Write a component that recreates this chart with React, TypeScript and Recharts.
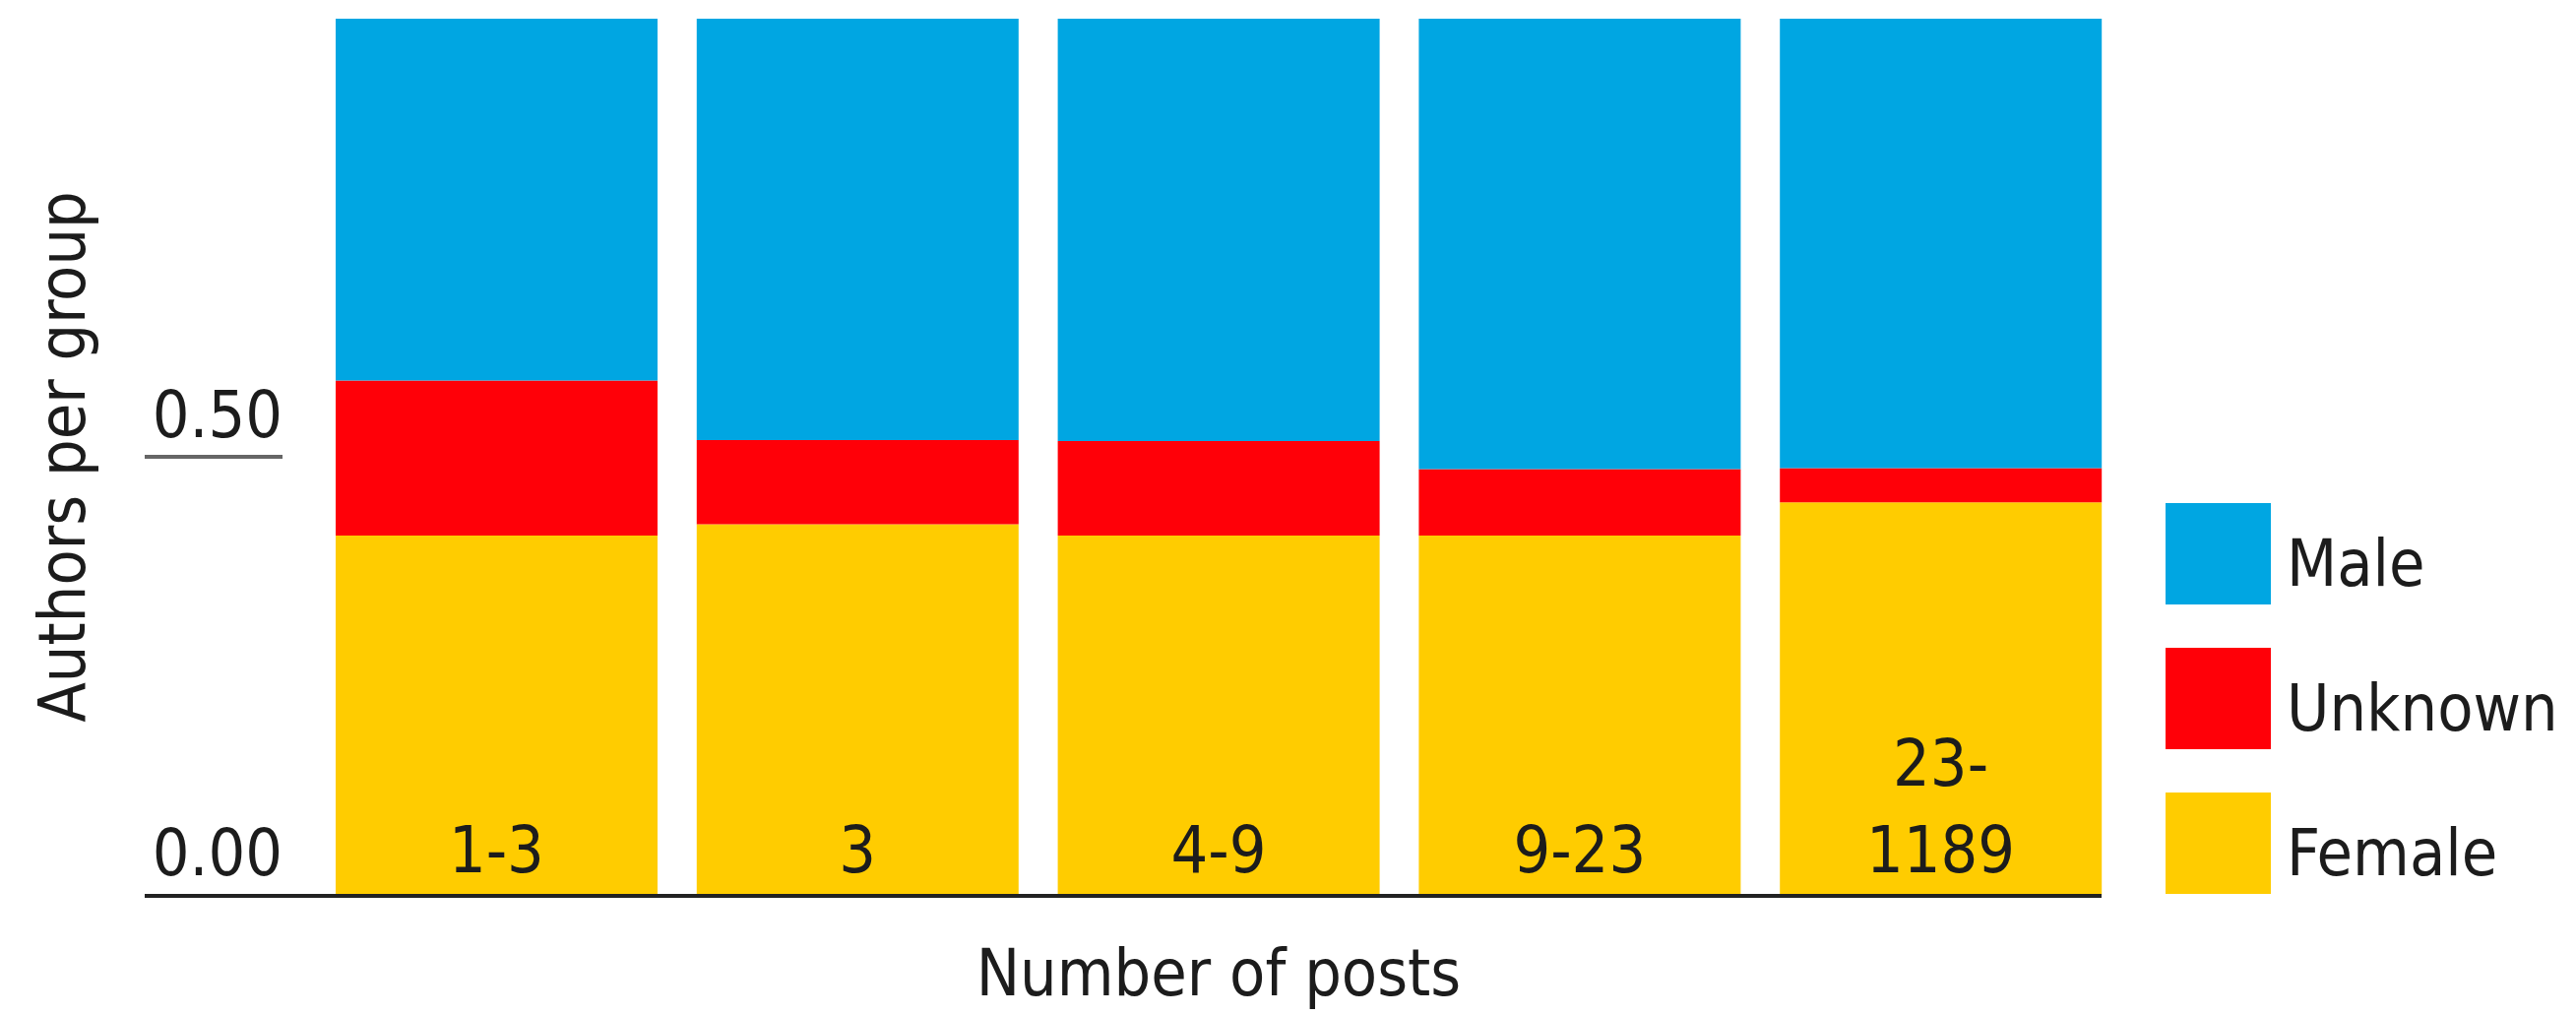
import { BarChart, Bar, XAxis, YAxis, Legend } from 'recharts';

const categories = ['1-3', '3', '4-9', '9-23', '23-\n1189'];
const female = [0.41, 0.423, 0.41, 0.41, 0.448];
const unknown = [0.177, 0.096, 0.108, 0.076, 0.039];
const male = [0.413, 0.481, 0.482, 0.514, 0.513];
const yTicks = [0, 0.5];
const legendOrder = ['Male', 'Unknown', 'Female'];

const data = categories.map((c, i) => ({
  posts: c,
  female: female[i],
  unknown: unknown[i],
  male: male[i],
}));

const FONT = "'DejaVu Sans Condensed', 'DejaVu Sans', sans-serif";
const INK = '#1c1c1c';
const CHART_W = 2617;
const CHART_H = 1031;
const MARGIN = { top: 19, right: 462, left: 0, bottom: 0 };
const Y_AXIS_W = 321;
const BAR_W = 327;
// plot width, minus the half gap so the base line stops at the last bar
const BASE_END = CHART_W - MARGIN.right - Y_AXIS_W - 20;

const YTick = ({ x, y, payload }: any) => {
  const isZero = payload.value === 0;
  return (
    <g>
      <text
        x={x - 34}
        y={y - 43}
        textAnchor="end"
        dominantBaseline="central"
        fontSize={66}
        fontFamily={FONT}
        fontStretch="condensed"
        fill={INK}
      >
        {payload.value.toFixed(2)}
      </text>
      <line
        x1={x - 174}
        x2={isZero ? x + BASE_END : x - 34}
        y1={y + (isZero ? 1 : 0)}
        y2={y + (isZero ? 1 : 0)}
        stroke={isZero ? '#222' : '#666'}
        strokeWidth={4}
      />
    </g>
  );
};

const XTick = ({ x, y, payload }: any) => {
  const lines = String(payload.value).split('\n');
  return (
    <g>
      {lines.map((ln, i) => (
        <text
          key={i}
          x={x}
          y={y - 46 - (lines.length - 1 - i) * 88}
          textAnchor="middle"
          dominantBaseline="central"
          fontSize={66}
          fontFamily={FONT}
          fontStretch="condensed"
          fill={INK}
        >
          {ln}
        </text>
      ))}
    </g>
  );
};

const renderLegend = ({ payload }: any) => {
  const items = [...(payload || [])].sort(
    (a: any, b: any) => legendOrder.indexOf(a.value) - legendOrder.indexOf(b.value)
  );
  return (
    <div style={{ display: 'flex', flexDirection: 'column', gap: 44 }}>
      {items.map((p: any) => (
        <div key={p.value} style={{ display: 'flex', alignItems: 'center', height: 103 }}>
          <div style={{ width: 107, height: 103, background: p.color }} />
          <span
            style={{
              marginLeft: 16,
              fontSize: 66,
              lineHeight: 1,
              fontFamily: FONT,
              fontStretch: 'condensed',
              color: INK,
              position: 'relative',
              top: 10,
            }}
          >
            {p.value}
          </span>
        </div>
      ))}
    </div>
  );
};

export default function App() {
  return (
    <div style={{ width: CHART_W, height: CHART_H, position: 'relative' }}>
      <style>{`body{margin:0;background:#fff}`}</style>
      <BarChart width={CHART_W} height={CHART_H} data={data} margin={MARGIN}>
        <XAxis
          dataKey="posts"
          height={122}
          axisLine={false}
          tickLine={false}
          tickSize={0}
          tickMargin={0}
          tick={<XTick />}
          interval={0}
          label={{
            content: ({ viewBox }: any) => (
              <text
                x={viewBox.x + viewBox.width / 2}
                y={988}
                textAnchor="middle"
                dominantBaseline="central"
                fontSize={66}
                fontFamily={FONT}
                fontStretch="condensed"
                fill={INK}
              >
                Number of posts
              </text>
            ),
          }}
        />
        <YAxis
          width={Y_AXIS_W}
          domain={[0, 1]}
          ticks={yTicks}
          axisLine={false}
          tickLine={false}
          tickSize={0}
          tickMargin={0}
          tick={<YTick />}
          label={{
            content: ({ viewBox }: any) => {
              const cy = viewBox.y + viewBox.height / 2;
              return (
                <text
                  x={63}
                  y={cy}
                  transform={`rotate(-90, 63, ${cy})`}
                  textAnchor="middle"
                  dominantBaseline="central"
                  fontSize={66}
                  fontFamily={FONT}
                  fontStretch="condensed"
                  fill={INK}
                >
                  Authors per group
                </text>
              );
            },
          }}
        />
        <Legend
          layout="vertical"
          align="center"
          verticalAlign="middle"
          content={renderLegend}
          wrapperStyle={{ left: 2200, top: 511, width: 417 }}
        />
        <Bar dataKey="female" name="Female" stackId="a" fill="#FFCC00" barSize={BAR_W} isAnimationActive={false} />
        <Bar dataKey="unknown" name="Unknown" stackId="a" fill="#FF0008" barSize={BAR_W} isAnimationActive={false} />
        <Bar dataKey="male" name="Male" stackId="a" fill="#00A6E2" barSize={BAR_W} isAnimationActive={false} />
      </BarChart>
    </div>
  );
}
